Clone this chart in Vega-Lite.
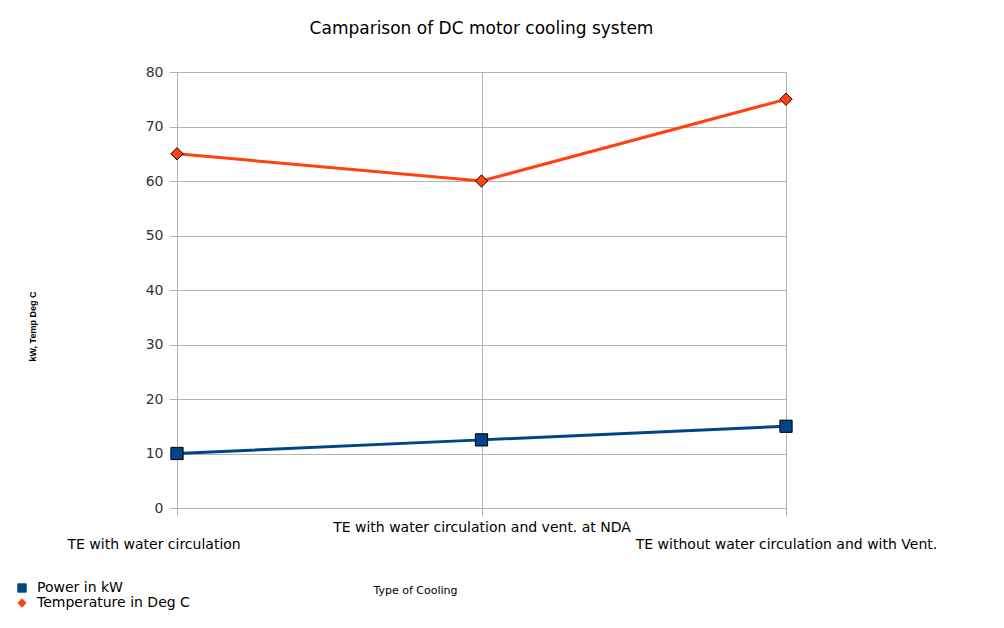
{
  "$schema": "https://vega.github.io/schema/vega-lite/v6.json",
  "width": 609,
  "height": 436,
  "padding": {"left": 177, "top": 72, "right": 218, "bottom": 120},
  "autosize": {"type": "none"},
  "background": "white",
  "title": {
    "text": "Camparison of DC motor cooling system",
    "font": "DejaVu Sans",
    "fontSize": 17,
    "fontWeight": "normal",
    "color": "#000000",
    "anchor": "middle",
    "offset": 27
  },
  "data": {
    "values": [
      {"cooling": "TE with water circulation", "series": "Power in kW", "value": 10},
      {"cooling": "TE with water circulation and vent. at NDA", "series": "Power in kW", "value": 12.5},
      {"cooling": "TE without water circulation and with Vent.", "series": "Power in kW", "value": 15},
      {"cooling": "TE with water circulation", "series": "Temperature in Deg C", "value": 65},
      {"cooling": "TE with water circulation and vent. at NDA", "series": "Temperature in Deg C", "value": 60},
      {"cooling": "TE without water circulation and with Vent.", "series": "Temperature in Deg C", "value": 75}
    ]
  },
  "encoding": {
    "x": {
      "field": "cooling",
      "type": "nominal",
      "sort": null,
      "scale": {"type": "point", "padding": 0},
      "axis": {
        "title": "Type of Cooling",
        "titleFont": "DejaVu Sans",
        "titleFontSize": 11,
        "titleFontWeight": "normal",
        "titleColor": "#000000",
        "titleX": 238,
        "titleY": 82,
        "titleAlign": "center",
        "titleBaseline": "middle",
        "labelAngle": 0,
        "labelFont": "DejaVu Sans",
        "labelFontSize": 14,
        "labelColor": "#000000",
        "labelOverlap": false,
        "labelLimit": 0,
        "labelPadding": {"condition": {"test": "datum.value == 'TE with water circulation and vent. at NDA'", "value": 4}, "value": 21},
        "labelAlign": {"condition": {"test": "datum.value == 'TE with water circulation'", "value": "left"}, "value": "center"},
        "labelOffset": {"condition": {"test": "datum.value == 'TE with water circulation'", "value": -110}, "value": 0},
        "domainColor": "#b3b3b3",
        "tickColor": "#b3b3b3",
        "tickSize": 8,
        "grid": true,
        "gridColor": "#b3b3b3"
      }
    },
    "y": {
      "field": "value",
      "type": "quantitative",
      "scale": {"domain": [0, 80], "nice": false},
      "axis": {
        "title": "kW, Temp Deg C",
        "titleFont": "Liberation Sans",
        "titleFontSize": 9,
        "titleFontWeight": "bold",
        "titleColor": "#000000",
        "titleX": -140,
        "titleY": 254,
        "titleAngle": -90,
        "titleAlign": "center",
        "values": [0, 10, 20, 30, 40, 50, 60, 70, 80],
        "labelFont": "DejaVu Sans",
        "labelFontSize": 14,
        "labelColor": "#333333",
        "labelPadding": 6,
        "domainColor": "#b3b3b3",
        "tickColor": "#b3b3b3",
        "tickSize": 8,
        "gridColor": "#b3b3b3"
      }
    },
    "color": {
      "field": "series",
      "type": "nominal",
      "scale": {"domain": ["Power in kW", "Temperature in Deg C"], "range": ["#004586", "#ff420e"]},
      "legend": {
        "title": null,
        "orient": "none",
        "legendX": -162,
        "legendY": 509,
        "labelFont": "DejaVu Sans",
        "labelFontSize": 14,
        "labelColor": "#000000",
        "symbolStrokeWidth": 1,
        "symbolSize": 70,
        "rowPadding": 1,
        "labelOffset": 8
      }
    },
    "shape": {
      "field": "series",
      "type": "nominal",
      "scale": {"domain": ["Power in kW", "Temperature in Deg C"], "range": ["square", "diamond"]},
      "legend": null
    }
  },
  "layer": [
    {"mark": {"type": "line", "strokeWidth": 3}},
    {"mark": {"type": "point", "filled": true, "size": 150, "stroke": "#000000", "strokeWidth": 1, "opacity": 1}}
  ],
  "config": {
    "view": {"stroke": "#b3b3b3"}
  }
}
